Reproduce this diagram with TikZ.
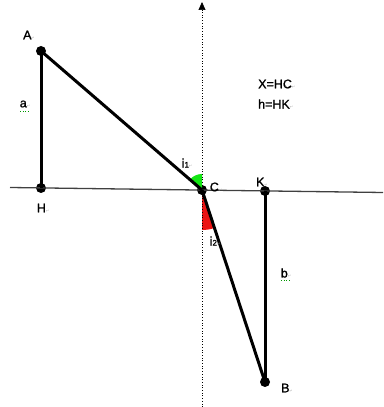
\documentclass[tikz,border=0pt]{standalone}
\usepackage{fontspec}
\setmainfont[FakeBold=1.2,UprightFeatures={FakeBold=1.2}]{Liberation Sans}
\newfontfamily\symfont{DejaVu Sans}
\usetikzlibrary{arrows.meta}
\definecolor{brightgreen}{RGB}{20,230,20}
\definecolor{brightred}{RGB}{235,20,20}
\newcommand{\retmark}{\raisebox{0pt}{\symfont\fontsize{4}{5}\selectfont\color{gray!60}↵}}
\begin{document}
\begin{tikzpicture}[x=1pt,y=1pt,
  dot/.style={circle,fill=black,inner sep=0pt,minimum size=10pt},
  seg/.style={line width=3pt},
  lbl/.style={inner sep=0pt,font=\fontsize{12.5}{14}\selectfont}]
\useasboundingbox (0,0) rectangle (383,407);
% points (y = 407 - pixel y)
\node[dot] (A) at (41,356) {};
\node[dot] (H) at (41,219) {};
\node[dot] (C) at (202,217) {};
\node[dot] (K) at (265,216) {};
\node[dot] (B) at (265,25) {};
\coordinate (L) at (10,219.5);
\coordinate (R) at (383,214.5);
\coordinate (T) at (202,405);
\coordinate (D) at (202,0);
% sectors
\fill[brightgreen] (C.center) -- ++(90:16) arc (90:139.2:16) -- cycle;
\fill[brightred] (C.center) -- ++(-90:40) arc (-90:-71.8:40) -- cycle;
% axes
\draw[line width=1.3pt,black!75] (L) -- (R);
\draw[dotted,line width=0.7pt,-{Triangle[length=8pt,width=7pt]}] (D) -- (T);
% segments
\draw[seg] (A.center) -- (H.center);
\draw[seg] (A.center) -- (C.center);
\draw[seg] (C.center) -- (B.center);
\draw[seg] (K.center) -- (B.center);
% labels
\node[lbl] (lA) at (29,372) {A\retmark};
\node[lbl] (lH) at (43,199) {H\retmark};
\node[lbl] (lC) at (216,220) {C\retmark};
\node[lbl] (lK) at (262,225) {K\retmark};
\node[lbl] (lB) at (287,19) {B\retmark};
\node[lbl] (la) at (25,303) {a\retmark};
\draw[green!60!black,dotted,line width=0.6pt] (20,296) -- (28,296);
\node[lbl] (lb) at (286,134) {b\retmark};
\draw[green!60!black,dotted,line width=0.6pt] (281,127) -- (289,127);
\node[lbl] (li1) at (187,244) {i\fontsize{8}{9}\selectfont1\retmark};
\node[lbl] (li2) at (215,166) {i\fontsize{8}{9}\selectfont2\retmark};
\node[lbl,anchor=west] (lX) at (258,323) {X=HC\retmark};
\node[lbl,anchor=west] (lh) at (258,303) {h=HK\retmark};
\end{tikzpicture}
\end{document}
